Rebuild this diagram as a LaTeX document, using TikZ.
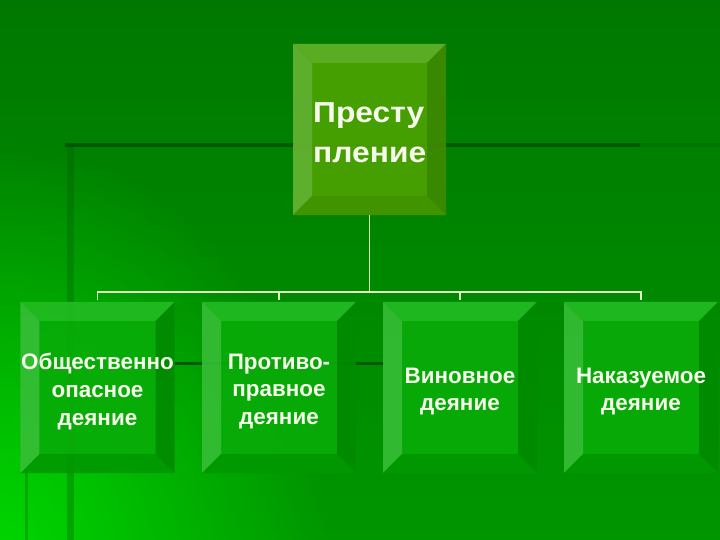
\documentclass[tikz,border=0pt]{standalone}
\usepackage{fontspec}
\setmainfont{Liberation Sans}
\newfontfamily\widefont[FakeStretch=1.1]{Liberation Sans}
\usetikzlibrary{calc,fadings}
\definecolor{bgTop}{RGB}{0,120,0}
\definecolor{bgBot}{RGB}{0,150,0}
\definecolor{bgGlow}{RGB}{0,215,0}
\definecolor{bgLine}{RGB}{0,88,0}
\definecolor{topF}{RGB}{78,163,0}
\definecolor{topT}{RGB}{100,178,38}
\definecolor{topL}{RGB}{105,180,50}
\definecolor{topR}{RGB}{64,138,0}
\definecolor{topB}{RGB}{72,150,0}
\definecolor{loF}{RGB}{8,172,8}
\definecolor{loT}{RGB}{35,188,35}
\definecolor{loL}{RGB}{55,190,55}
\definecolor{loR}{RGB}{0,138,0}
\definecolor{loB}{RGB}{0,152,0}
\definecolor{txt}{RGB}{245,250,235}
\definecolor{connc}{RGB}{225,255,190}
\tikzfading[name=glowfade, inner color=transparent!0, outer color=transparent!100]
\newcommand{\bevels}[2]{%
  \fill[#2F] ($(#1.north west)+(19,19)$) rectangle ($(#1.south east)+(-19,-19)$);
  \fill[#2T] (#1.north west) -- (#1.north east) -- ($(#1.north east)+(-19,19)$) -- ($(#1.north west)+(19,19)$) -- cycle;
  \fill[#2L] (#1.north west) -- ($(#1.north west)+(19,19)$) -- ($(#1.south west)+(19,-19)$) -- (#1.south west) -- cycle;
  \fill[#2R] (#1.north east) -- (#1.south east) -- ($(#1.south east)+(-19,-19)$) -- ($(#1.north east)+(-19,19)$) -- cycle;
  \fill[#2B] (#1.south west) -- ($(#1.south west)+(19,-19)$) -- ($(#1.south east)+(-19,-19)$) -- (#1.south east) -- cycle;
}
\tikzset{
  topbox/.style={minimum width=153bp, minimum height=171bp, inner sep=0pt, outer sep=0pt},
  lowbox/.style={minimum width=154bp, minimum height=171bp, inner sep=0pt, outer sep=0pt},
  toplbl/.style={text=txt, align=left, inner sep=0pt, font=\widefont\bfseries\fontsize{29}{40}\selectfont},
  lowlbl/.style={text=txt, align=center, inner sep=0pt, font=\bfseries\fontsize{22.5}{28}\selectfont},
  conn/.style={draw=connc, line width=1.4bp},
  deco/.style={draw=bgLine}
}
\begin{document}
\begin{tikzpicture}[x=1bp,y=-1bp]
\useasboundingbox (0,0) rectangle (720,540);
\shade[top color=bgTop, bottom color=bgBot] (0,0) rectangle (720,540);
\begin{scope}
\clip (0,0) rectangle (720,540);
\fill[bgGlow, path fading=glowfade] (0,560) ellipse (330 and 420);
\end{scope}
% template decoration
\draw[deco, line width=4bp] (65,145) -- (640,145);
\draw[draw=bgLine, opacity=0.35, line width=4bp] (640,145) -- (720,145);
\draw[draw=bgLine, opacity=0.3, line width=7bp] (70,147) -- (70,540);
\draw[deco, line width=3bp] (175,363) -- (385,363);
\draw[draw=bgLine, opacity=0.3, line width=3bp] (26,470) -- (26,540);
% boxes
\node[topbox] (top) at (369.5,129.5) {};
\node[lowbox] (b1) at (97.5,387.5) {};
\node[lowbox] (b2) at (279,387.5) {};
\node[lowbox] (b3) at (460,387.5) {};
\node[lowbox] (b4) at (641,387.5) {};
\begin{scope}[fill opacity=0.9]
\bevels{top}{top}
\bevels{b1}{lo}
\bevels{b2}{lo}
\bevels{b3}{lo}
\bevels{b4}{lo}
\end{scope}
% connectors
\coordinate (bus) at (369.5,292);
\draw[conn] (top.south) -- (bus);
\foreach \b in {b1,b2,b3,b4}{
  \draw[conn, shorten >=2bp] (bus) -| (\b.north);
}
% labels
\node[toplbl, anchor=west] (ttop) at (313,133) {Престу\\пление};
\node[lowlbl] (t1) at (97.5,391.5) {Общественно\\опасное\\деяние};
\node[lowlbl] (t2) at (279,391.5) {Противо-\\правное\\деяние};
\node[lowlbl] (t3) at (460,391.5) {Виновное\\деяние};
\node[lowlbl] (t4) at (641,391.5) {Наказуемое\\деяние};
\end{tikzpicture}
\end{document}
